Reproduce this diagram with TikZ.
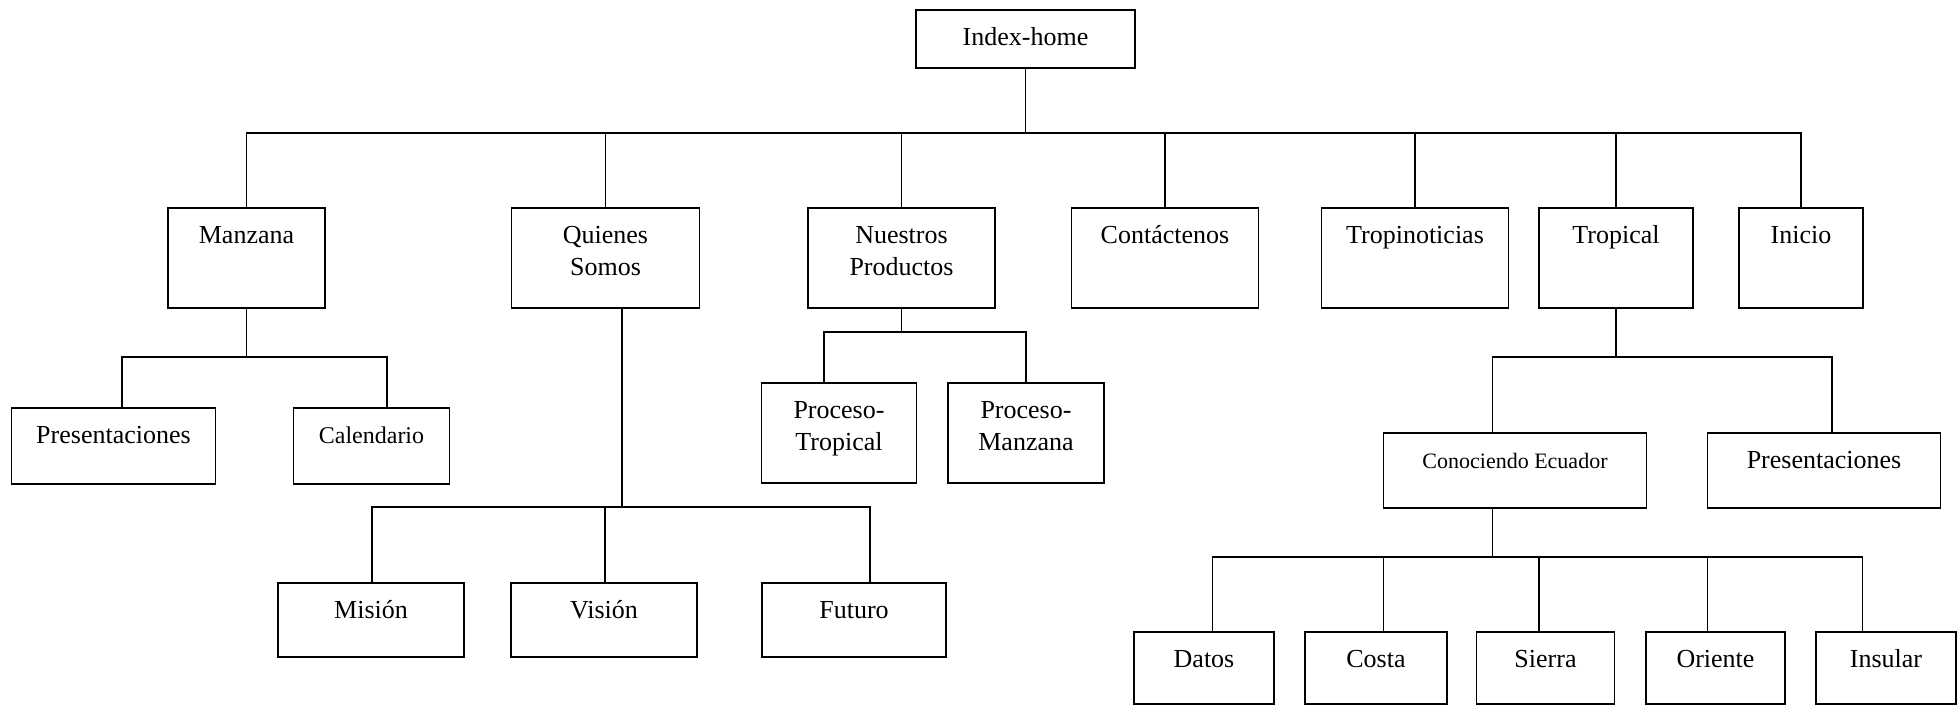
\documentclass[tikz,border=0pt]{standalone}
\usepackage{fontspec}
\setmainfont{Liberation Serif}
\usetikzlibrary{calc}

\begin{document}
\begin{tikzpicture}[x=0.5pt,y=-0.5pt,line width=0.85pt,
  page/.style={draw,anchor=north,inner sep=0pt,align=center,text height=18pt,
    font=\fontsize{13pt}{15.6pt}\selectfont},
  hA/.style={text depth=11pt}, hB/.style={text depth=32pt}, hC/.style={text depth=20pt},
  hD/.style={text depth=19pt}, hE/.style={text depth=19.5pt}, hF/.style={text depth=18pt},
  two/.style={text height=33.6pt,text depth=16.4pt}]
\useasboundingbox (0,0) rectangle (1960,705);

\node[page,hA,minimum width=109.5pt] (home) at (1025.5,9) {Index-home};

\node[page,hB,minimum width=78.5pt] (manz) at (246.5,207) {Manzana};
\node[page,two,minimum width=94pt] (quien) at (605.5,207) {Quienes\\Somos};
\node[page,two,minimum width=93.5pt] (nuest) at (901.5,207) {Nuestros\\Productos};
\node[page,hB,minimum width=93.5pt] (conta) at (1165,207) {Contáctenos};
\node[page,hB,minimum width=93.5pt] (tropn) at (1415,207) {Tropinoticias};
\node[page,hB,minimum width=77pt] (trop) at (1616,207) {Tropical};
\node[page,hB,minimum width=62pt] (inicio) at (1801,207) {Inicio};

\node[page,hC,minimum width=102pt] (pres1) at (113.5,407) {Presentaciones};
\node[page,hC,minimum width=78pt,font=\fontsize{12pt}{14.4pt}\selectfont] (calen) at (371.5,407) {Calendario};

\node[page,two,minimum width=77.5pt] (proct) at (839,382) {Proceso-\\Tropical};
\node[page,two,minimum width=78pt] (procm) at (1026,382) {Proceso-\\Manzana};

\node[page,hD,minimum width=93pt] (mision) at (371,582) {Misión};
\node[page,hD,minimum width=93pt] (vision) at (604,582) {Visión};
\node[page,hD,minimum width=92pt] (futuro) at (854,582) {Futuro};

\node[page,hE,minimum width=131.5pt,font=\fontsize{11pt}{13.2pt}\selectfont] (conoc) at (1515,432) {Conociendo Ecuador};
\node[page,hE,minimum width=116.5pt] (pres2) at (1824,432) {Presentaciones};

\node[page,hF,minimum width=70pt] (datos) at (1204,631) {Datos};
\node[page,hF,minimum width=71pt] (costa) at (1376,631) {Costa};
\node[page,hF,minimum width=69pt] (sierra) at (1545.5,631) {Sierra};
\node[page,hF,minimum width=69.5pt] (oriente) at (1715.5,631) {Oriente};
\node[page,hF,minimum width=70pt] (insular) at (1886,631) {Insular};

\coordinate (b0) at (1025.5,133);
\coordinate (b1) at (246.5,357);
\coordinate (b2) at (622,507);
\coordinate (b3) at (901.5,332);
\coordinate (b4) at (1616,357);
\coordinate (b5) at (1492.5,557);

\draw (home.south) -- (b0);
\draw (b0) -| (manz.north) (b0) -| (quien.north) (b0) -| (nuest.north) (b0) -| (conta.north);
\draw (b0) -| (tropn.north) (b0) -| (trop.north) (b0) -| (inicio.north);

\draw (manz.south) -- (b1);
\draw (b1) -| ([xshift=4.25pt]pres1.north) (b1) -| ([xshift=7.75pt]calen.north);

\draw ([xshift=8.25pt]quien.south) -- (b2);
\draw (b2) -| ([xshift=0.5pt]mision.north) (b2) -| ([xshift=0.5pt]vision.north) (b2) -| ([xshift=8pt]futuro.north);

\draw (nuest.south) -- (b3);
\draw (b3) -| ([xshift=-7.5pt]proct.north) (b3) -| (procm.north);

\draw (trop.south) -- (b4);
\draw (b4) -| ([xshift=-11.25pt]conoc.north) (b4) -| ([xshift=4pt]pres2.north);

\draw ([xshift=-11.25pt]conoc.south) -- (b5);
\draw (b5) -| ([xshift=4.25pt]datos.north) (b5) -| ([xshift=3.75pt]costa.north) (b5) -| ([xshift=-3.25pt]sierra.north);
\draw (b5) -| ([xshift=-4pt]oriente.north) (b5) -| ([xshift=-11.75pt]insular.north);
\end{tikzpicture}
\end{document}
